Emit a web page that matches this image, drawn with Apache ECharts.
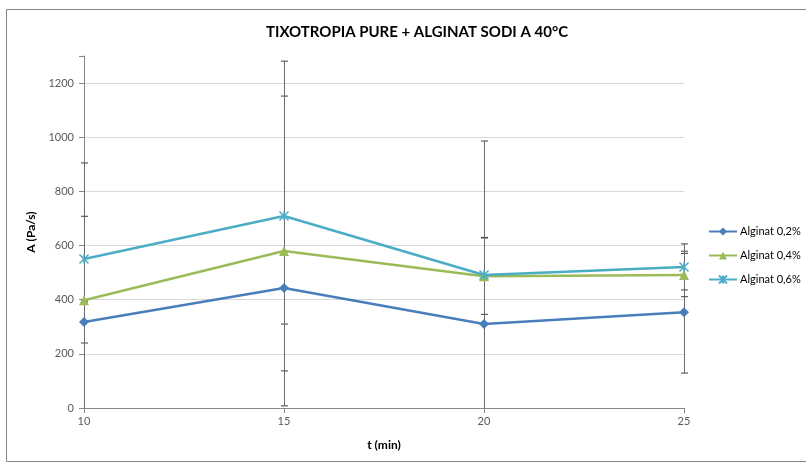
<!DOCTYPE html>
<html>
<head>
<meta charset="utf-8">
<script src="https://cdn.jsdelivr.net/npm/echarts@6/dist/echarts.min.js"></script>
<style>
  html, body { margin: 0; padding: 0; background: #ffffff; }
  #chart { width: 806px; height: 465px; }
</style>
</head>
<body>
<div id="chart"></div>
<script>
// Time points (min)
const times = [10, 15, 20, 25];
const seriesNames = ['Alginat 0,2%', 'Alginat 0,4%', 'Alginat 0,6%'];

// Mean A (Pa/s) per alginate concentration
const alg02 = [318, 443, 310, 354];
const alg04 = [398, 580, 487, 491];
const alg06 = [550, 709, 491, 521];

// Error bar half-widths (±)
const err02 = [78, 133, 320, 225];
const err04 = [507, 572, 141, 80];
const err06 = [158, 572, 495, 85];

// Axis ticks
const xTicks = [10, 15, 20, 25];
const yTicks = [0, 200, 400, 600, 800, 1000, 1200];
const Y_MIN = 0, Y_MAX = 1300;

const FONT = 'Lato, "Open Sans", sans-serif';
const colors = ['#4a7ebb', '#9bbb59', '#4bacc6'];

function errorSeries(key, values, errs) {
  return {
    type: 'custom',
    name: key,
    silent: true,
    z: 1,
    data: times.map((t, i) => [t, values[i] - errs[i], values[i] + errs[i]]),
    renderItem(params, api) {
      const x = api.value(0);
      const lo = api.value(1), hi = api.value(2);
      const loC = Math.max(lo, Y_MIN), hiC = Math.min(hi, Y_MAX);
      const pLo = api.coord([x, loC]);
      const pHi = api.coord([x, hiC]);
      const xs = Math.round(pLo[0]) + 0.5;
      const stem = { stroke: '#6a6a6a', lineWidth: 1 };
      const cap = { stroke: '#404040', lineWidth: 1 };
      const children = [{
        type: 'line', shape: { x1: xs, y1: pLo[1], x2: xs, y2: pHi[1] }, style: stem
      }];
      const half = 3.5;
      if (lo >= Y_MIN) children.push({ type: 'line', shape: { x1: xs - half, y1: pLo[1], x2: xs + half, y2: pLo[1] }, style: cap });
      if (hi <= Y_MAX) children.push({ type: 'line', shape: { x1: xs - half, y1: pHi[1], x2: xs + half, y2: pHi[1] }, style: cap });
      return { type: 'group', children };
    }
  };
}

function lineSeries(name, values, color, symbol, size, extra) {
  return Object.assign({
    type: 'line',
    name,
    z: 3,
    data: times.map((t, i) => [t, values[i]]),
    symbol,
    symbolSize: size,
    showAllSymbol: true,
    lineStyle: { color, width: 2.5 },
    itemStyle: { color },
    emphasis: { disabled: true }
  }, extra || {});
}

const chart = echarts.init(document.getElementById('chart'), null, { renderer: 'canvas' });

chart.setOption({
  animation: false,
  backgroundColor: '#ffffff',
  textStyle: { fontFamily: FONT },
  title: {
    text: 'TIXOTROPIA PURE + ALGINAT SODI A 40°C',
    left: 412,
    textAlign: 'center',
    top: 20,
    textStyle: { fontFamily: FONT, fontSize: 15, fontWeight: 'bold', color: '#000000' }
  },
  graphic: [{
    type: 'rect',
    shape: { x: 6.5, y: 9.5, width: 820, height: 452 },
    style: { fill: 'none', stroke: '#868686', lineWidth: 1 },
    silent: true,
    z: -1
  }],
  legend: {
    orient: 'vertical',
    left: 708,
    top: 226,
    padding: 0,
    itemWidth: 28,
    itemHeight: 10,
    itemGap: 13,
    data: seriesNames,
    textStyle: { fontFamily: FONT, fontSize: 11, color: '#000000', padding: [0, 0, 0, -2] },
    selectedMode: false
  },
  grid: { left: 84, right: 122, top: 56, bottom: 57 },
  xAxis: {
    type: 'value',
    min: 10,
    max: 25,
    interval: 5,
    name: 't (min)',
    nameLocation: 'middle',
    nameGap: 31,
    nameTextStyle: { fontFamily: FONT, fontSize: 12, fontWeight: 'bold', color: '#000000' },
    axisLine: { show: true, lineStyle: { color: '#868686', width: 1 } },
    axisTick: { show: true, inside: false, length: 5, lineStyle: { color: '#868686' } },
    axisLabel: {
      fontFamily: FONT, fontSize: 11, color: '#595959', margin: 8,
      formatter: v => (xTicks.indexOf(v) >= 0 ? String(v) : '')
    },
    splitLine: { show: false }
  },
  yAxis: {
    type: 'value',
    min: Y_MIN,
    max: Y_MAX,
    interval: 200,
    name: 'A (Pa/s)',
    nameLocation: 'middle',
    nameGap: 47,
    nameRotate: 90,
    nameTextStyle: { fontFamily: FONT, fontSize: 12, fontWeight: 'bold', color: '#000000' },
    axisLine: { show: true, lineStyle: { color: '#868686', width: 1 } },
    axisTick: { show: true, inside: false, length: 5, lineStyle: { color: '#868686' } },
    axisLabel: {
      fontFamily: FONT, fontSize: 11, color: '#595959', margin: 10,
      formatter: v => (yTicks.indexOf(v) >= 0 ? String(v) : '')
    },
    splitLine: {
      show: true,
      lineStyle: {
        color: ['#d9d9d9', '#d9d9d9', '#d9d9d9', '#d9d9d9', '#d9d9d9', '#d9d9d9', '#d9d9d9', 'rgba(0,0,0,0)'],
        width: 1
      }
    }
  },
  series: [
    errorSeries('err02', alg02, err02),
    errorSeries('err04', alg04, err04),
    errorSeries('err06', alg06, err06),
    lineSeries(seriesNames[0], alg02, colors[0], 'diamond', 10),
    lineSeries(seriesNames[1], alg04, colors[1], 'triangle', 10),
    lineSeries(seriesNames[2], alg06, colors[2],
      'path://M0,0L10,10M10,0L0,10M5,0L5,10', 9,
      { itemStyle: { color: 'rgba(0,0,0,0)', borderColor: colors[2], borderWidth: 1.5 } })
  ]
});
</script>
</body>
</html>
